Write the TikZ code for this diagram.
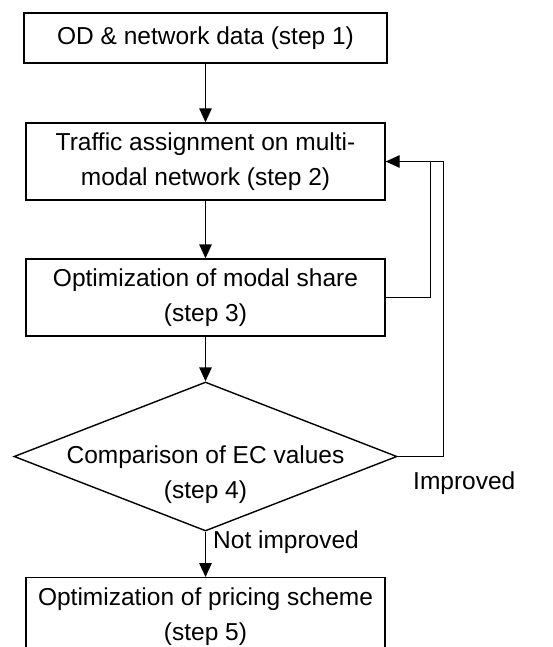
\documentclass[tikz,border=0pt]{standalone}
\usepackage{fontspec}
\setmainfont{Liberation Sans}
\usetikzlibrary{arrows.meta,shapes.geometric}

\begin{document}
\begin{tikzpicture}[x=1pt,y=-1pt,
  stepbox/.style={draw,line width=1.4pt,minimum width=359pt,minimum height=77pt,
    inner sep=0pt,align=center,font=\fontsize{24.5}{35}\selectfont},
  arr/.style={line width=1.4pt,-{Triangle[width=12.5pt,length=14pt]}},
  lab/.style={font=\fontsize{24.5}{35}\selectfont,inner sep=0pt,anchor=west}]
\useasboundingbox (0,0) rectangle (552,647);
\clip (0,0) rectangle (552,647);
\fill[white] (0,0) rectangle (552,647);
\node[stepbox,minimum width=363pt,minimum height=50pt] (data) at (205.5,38) {OD \& network data (step 1)};
\node[stepbox] (assign) at (205.5,161.5) {Traffic assignment on multi-\\modal network (step 2)};
\node[stepbox] (share) at (205.5,297.5) {Optimization of modal share\\(step 3)};
\node[diamond,draw,line width=1.4pt,minimum width=383pt,minimum height=149pt,inner sep=0pt] (compare) at (205.5,456.5) {};
\node[align=center,inner sep=0pt,font=\fontsize{24.5}{35}\selectfont] (comparetext) at (205.5,474.5) {Comparison of EC values\\(step 4)};
\node[stepbox,anchor=north] (pricing) at (205.5,577) {Optimization of pricing scheme\\(step 5)};
\draw[arr] (data.south) -- (assign.north);
\draw[arr] (assign.south) -- (share.north);
\draw[arr] (share.south) -- (compare.north);
\draw[arr] (compare.south) -- (pricing.north);
\draw[line width=1.4pt] (share.east) -- ++(45,0) |- (assign.east);
\draw[arr] (compare.east) -- ++(46,0) |- (assign.east);
\node[lab] (notimp) at (213,542) {Not improved};
\node[lab] (imp) at (413,483) {Improved};
\end{tikzpicture}
\end{document}
